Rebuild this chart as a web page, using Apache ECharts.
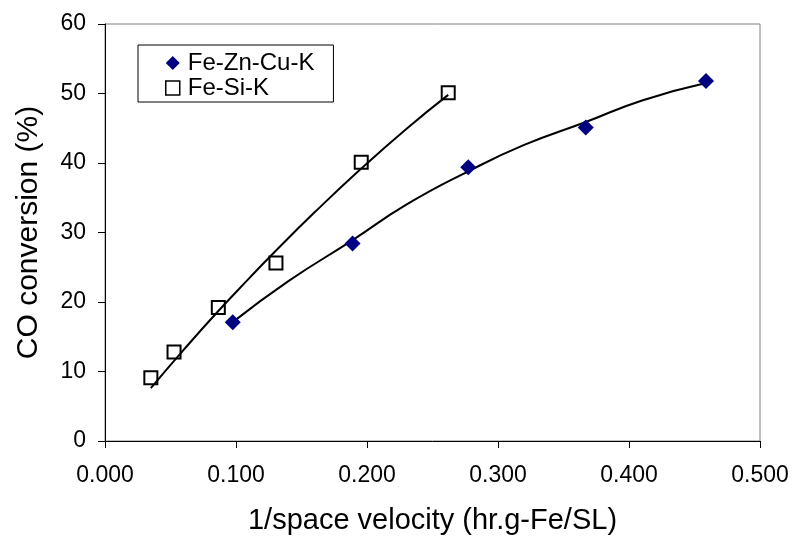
<!DOCTYPE html>
<html>
<head>
<meta charset="utf-8">
<script src="https://cdn.jsdelivr.net/npm/echarts@6/dist/echarts.min.js"></script>
<style>html,body{margin:0;padding:0;background:#fff;}#c{width:799px;height:546px;}</style>
</head>
<body>
<div id="c"></div>
<script>
// Data
var znX = [0.0975, 0.189, 0.2773, 0.367, 0.4588];
var znY = [17.1, 28.4, 39.4, 45.1, 51.8];
var siX = [0.035, 0.0527, 0.0865, 0.1305, 0.1956, 0.262];
var siY = [9.1, 12.8, 19.2, 25.6, 40.1, 50.1];
// Trendlines
var znTrendX = [0.0975, 0.14, 0.189, 0.23, 0.2773, 0.32, 0.367, 0.41, 0.4588];
var znTrendY = [17.1, 23.0, 28.9, 34.0, 38.8, 42.6, 45.9, 49.0, 51.5];
var siTrendX = [0.035, 0.06, 0.0865, 0.11, 0.13, 0.16, 0.1956, 0.23, 0.262];
var siTrendY = [7.6, 13.1, 18.7, 23.4, 27.3, 32.9, 39.2, 44.9, 49.8];
var seriesNames = ['Fe-Zn-Cu-K', 'Fe-Si-K'];
var xTitle = '1/space velocity (hr.g-Fe/SL)';
var yTitle = 'CO conversion (%)';

function pairs(xs, ys) { return xs.map(function (x, i) { return [x, ys[i]]; }); }

var chart = echarts.init(document.getElementById('c'), null, { renderer: 'canvas' });
var font = 'Liberation Sans, Arial, sans-serif';
chart.setOption({
  animation: false,
  backgroundColor: '#ffffff',
  textStyle: { fontFamily: font },
  grid: { left: 105, right: 39, top: 24, bottom: 105, show: true, borderColor: '#808080', borderWidth: 1 },
  legend: {
    left: 138, top: 45,
    orient: 'vertical',
    data: [
      { name: seriesNames[0], icon: 'diamond', itemStyle: { color: '#000080' } },
      { name: seriesNames[1], icon: 'rect', itemStyle: { color: '#ffffff', borderColor: '#000000', borderWidth: 1.5 } }
    ],
    itemWidth: 14, itemHeight: 14, itemGap: 1,
    borderColor: '#000', borderWidth: 1, padding: [6, 19, 2, 27],
    textStyle: { fontSize: 24, lineHeight: 24, color: '#000', fontFamily: font, padding: [0, 0, 0, 3] }
  },
  xAxis: {
    type: 'value', min: 0, max: 0.5, interval: 0.1,
    name: xTitle, nameLocation: 'middle', nameGap: 65,
    nameTextStyle: { fontSize: 29, color: '#000', fontFamily: font },
    axisLine: { onZero: false, lineStyle: { color: '#000', width: 1 } },
    axisTick: { show: true, length: 7, lineStyle: { color: '#000' } },
    axisLabel: { fontSize: 23, color: '#000', margin: 23, formatter: function (v) { return v.toFixed(3); } },
    splitLine: { show: false }
  },
  yAxis: {
    type: 'value', min: 0, max: 60, interval: 10,
    name: yTitle, nameLocation: 'middle', nameGap: 61,
    nameTextStyle: { fontSize: 30, color: '#000', fontFamily: font },
    axisLine: { onZero: false, lineStyle: { color: '#000', width: 1 } },
    axisTick: { show: true, length: 7, lineStyle: { color: '#000' } },
    axisLabel: { fontSize: 23, color: '#000', margin: 19 },
    splitLine: { show: false }
  },
  series: [
    { name: 'znTrend', type: 'line', data: pairs(znTrendX, znTrendY), smooth: true, symbol: 'none',
      lineStyle: { color: '#000', width: 2 }, silent: true, z: 2 },
    { name: 'siTrend', type: 'line', data: pairs(siTrendX, siTrendY), smooth: true, symbol: 'none',
      lineStyle: { color: '#000', width: 2 }, silent: true, z: 2 },
    { name: seriesNames[0], type: 'scatter', data: pairs(znX, znY), symbol: 'diamond', symbolSize: 16,
      itemStyle: { color: '#000080', opacity: 1 }, z: 3 },
    { name: seriesNames[1], type: 'scatter', data: pairs(siX, siY), symbol: 'rect', symbolSize: 13,
      itemStyle: { color: 'rgba(255,255,255,0)', borderColor: '#000', borderWidth: 2, opacity: 1 }, z: 3 }
  ]
});
</script>
</body>
</html>
